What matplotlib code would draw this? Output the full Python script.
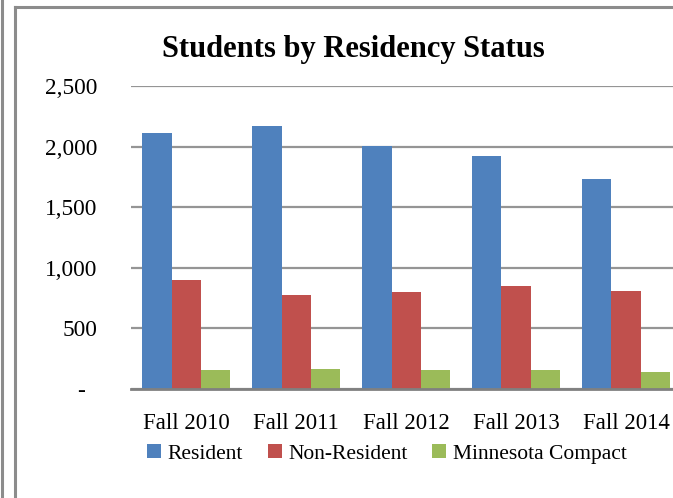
import numpy as np
import matplotlib
matplotlib.use("Agg")
import matplotlib.pyplot as plt
from matplotlib.lines import Line2D

plt.rcParams['font.family'] = ['Liberation Serif', 'DejaVu Serif']

# data
terms = ['Fall 2010', 'Fall 2011', 'Fall 2012', 'Fall 2013', 'Fall 2014']
resident = [2115, 2170, 2005, 1920, 1735]
non_resident = [897, 772, 800, 852, 810]
mn_compact = [157, 168, 157, 154, 140]
y_ticks = [0, 500, 1000, 1500, 2000, 2500]
y_labels = ['-  ', '500', '1,000', '1,500', '2,000', '2,500']

colors = ['#4F81BD', '#C0504D', '#9BBB59']
names = ['Resident', 'Non-Resident', 'Minnesota Compact']

fig = plt.figure(figsize=(6.73, 4.98), dpi=100)
ax = fig.add_axes([0.1947, 0.2189, 0.8172, 0.6084])

x = np.arange(len(terms))
w = 0.264
for i, (vals, c, n) in enumerate(zip([resident, non_resident, mn_compact], colors, names)):
    ax.bar(x + (i - 1) * w, vals, w, color=c, label=n, zorder=3)

ax.set_xlim(-0.5, len(terms) - 0.5)
ax.set_ylim(0, 2500)
ax.set_yticks(y_ticks)
ax.set_yticklabels(y_labels)
ax.set_xticks(x)
ax.set_xticklabels(terms)
ax.tick_params(axis='y', length=0, pad=24, labelsize=16.8)
ax.tick_params(axis='x', length=0, pad=17.5, labelsize=16.5)
ax.grid(axis='y', color='#959595', lw=1.6, zorder=0)
for s in ['top', 'right', 'left']:
    ax.spines[s].set_visible(False)
ax.spines['bottom'].set_color('#808080')
ax.spines['bottom'].set_linewidth(2)
ax.spines['bottom'].set_zorder(4)

fig.text(0.5245, 0.90, 'Students by Residency Status', ha='center', va='center',
         fontsize=22, fontweight='bold')

fig.legend(loc='center', bbox_to_anchor=(0.575, 0.089), ncol=3, frameon=False,
           fontsize=15.5, handlelength=0.65, handleheight=0.65, handletextpad=0.3,
           columnspacing=1.15)

# outer chart frame and the neighbouring border on the left
line_kw = dict(transform=fig.transFigure, color='#8c8c8c', lw=2.2)
fig.add_artist(Line2D([0.0223, 0.0223], [0, 0.986], **line_kw))
fig.add_artist(Line2D([0.0223, 1.0], [0.986, 0.986], **line_kw))
fig.add_artist(Line2D([0.003, 0.003], [0, 1.0], **line_kw))

fig.savefig('out.png', dpi=100)
